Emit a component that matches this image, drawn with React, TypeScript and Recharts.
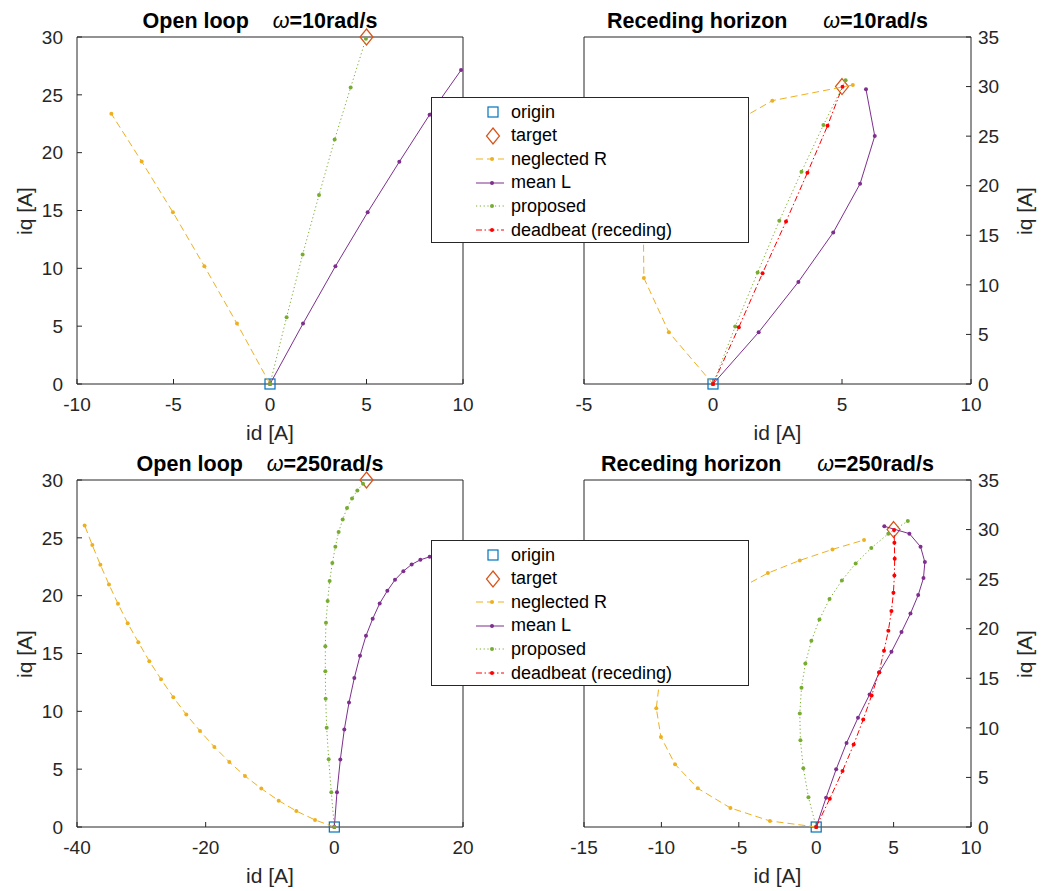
import React from 'react';
import { ScatterChart, Scatter, XAxis, YAxis } from 'recharts';

type Pt = [number, number];

// markers shared by every panel
const originPt: Pt[] = [[0, 0]];
const targetPt: Pt[] = [[5, 30]];

// Open loop, w = 10 rad/s
const ol10NeglectedR: Pt[] = [[0, 0], [-1.71, 5.22], [-3.4, 10.18], [-5.03, 14.85], [-6.65, 19.24], [-8.22, 23.36]];
const ol10MeanL: Pt[] = [[0, 0], [1.71, 5.22], [3.39, 10.18], [5.06, 14.85], [6.7, 19.21], [8.27, 23.28], [9.9, 27.14]];
const ol10Proposed: Pt[] = [[0, 0], [0.86, 5.77], [1.69, 11.19], [2.54, 16.33], [3.35, 21.14], [4.18, 25.64], [4.97, 29.85]];

// Receding horizon, w = 10 rad/s
const rh10NeglectedR: Pt[] = [[0, 0], [-1.71, 5.22], [-2.68, 10.7], [-2.7, 16.4], [-0.9, 23.8], [2.3, 28.58], [5.42, 30.16]];
const rh10MeanL: Pt[] = [[0, 0], [1.77, 5.22], [3.31, 10.3], [4.66, 15.28], [5.7, 20.19], [6.27, 25.01], [5.93, 29.72]];
const rh10Proposed: Pt[] = [[0, 0], [0.86, 5.79], [1.73, 11.24], [2.57, 16.46], [3.43, 21.41], [4.28, 26.12], [5.14, 30.63]];
const rh10Deadbeat: Pt[] = [[0, 0], [1.0, 5.72], [1.92, 11.17], [2.83, 16.39], [3.66, 21.31], [4.44, 26.05], [5.02, 29.99]];

// Open loop, w = 250 rad/s
const ol250NeglectedR: Pt[] = [
  [0, 0], [-3.0, 0.61], [-5.91, 1.38], [-8.65, 2.28], [-11.35, 3.32], [-13.89, 4.41], [-16.32, 5.62],
  [-18.65, 6.92], [-20.88, 8.31], [-23.01, 9.72], [-25.03, 11.22], [-26.94, 12.78], [-28.76, 14.34],
  [-30.47, 15.98], [-32.12, 17.62], [-33.63, 19.3], [-35.03, 20.97], [-36.37, 22.67], [-37.62, 24.37], [-38.81, 26.07],
];
const ol250MeanL: Pt[] = [
  [0, 0], [0.41, 3.0], [0.93, 5.83], [1.55, 8.42], [2.28, 10.76], [3.11, 12.89], [3.99, 14.8], [4.92, 16.53],
  [5.96, 18.0], [7.05, 19.33], [8.24, 20.42], [9.43, 21.37], [10.73, 22.12], [12.02, 22.7], [13.37, 23.1],
  [14.82, 23.36], [16.2, 23.5], [17.6, 23.55], [19.0, 23.5],
];
const ol250Proposed: Pt[] = [
  [0, 0], [-0.47, 3.0], [-0.88, 5.86], [-1.19, 8.57], [-1.35, 11.08], [-1.4, 13.47], [-1.4, 15.63], [-1.3, 17.65],
  [-1.04, 19.53], [-0.73, 21.26], [-0.31, 22.82], [0.16, 24.23], [0.67, 25.5], [1.3, 26.59], [1.97, 27.57],
  [2.75, 28.41], [3.58, 29.1], [4.46, 29.68],
];

// Receding horizon, w = 250 rad/s
const rh250NeglectedR: Pt[] = [
  [0, 0], [-2.99, 0.61], [-5.54, 1.92], [-7.65, 3.9], [-9.12, 6.33], [-10.03, 9.09], [-10.33, 11.98],
  [-10.1, 15.0], [-9.2, 18.0], [-7.6, 20.9], [-5.5, 23.6], [-3.12, 25.61], [-1.06, 26.89], [1.05, 28.0], [3.09, 28.95],
];
const rh250MeanL: Pt[] = [
  [0, 0], [0.64, 2.96], [1.29, 5.82], [1.96, 8.48], [2.7, 11.01], [3.45, 13.36], [4.08, 15.62], [4.86, 17.67],
  [5.51, 19.66], [6.09, 21.54], [6.59, 23.39], [6.93, 25.11], [7.02, 26.72], [6.74, 28.27], [6.02, 29.59], [4.4, 30.33],
];
const rh250Proposed: Pt[] = [
  [0, 0], [-0.5, 3.0], [-0.83, 5.92], [-1.02, 8.75], [-1.06, 11.44], [-0.95, 14.04], [-0.7, 16.49], [-0.31, 18.78],
  [0.21, 20.94], [0.86, 22.99], [1.66, 24.87], [2.55, 26.59], [3.56, 28.14], [4.66, 29.59], [5.92, 30.86],
];
const rh250Deadbeat: Pt[] = [
  [0, 0], [0.88, 2.86], [1.7, 5.65], [2.42, 8.31], [3.04, 10.84], [3.58, 13.26], [4.06, 15.58], [4.38, 17.77],
  [4.66, 19.79], [4.86, 21.78], [4.99, 23.63], [5.05, 25.38], [5.07, 27.06], [5.05, 28.68], [5.03, 29.96],
];

// tick labels
const ol10XTicks = [-10, -5, 0, 5, 10];
const rh10XTicks = [-5, 0, 5, 10];
const ol250XTicks = [-40, -20, 0, 20];
const rh250XTicks = [-15, -10, -5, 0, 5, 10];
const yTicks30 = [0, 5, 10, 15, 20, 25, 30];
const yTicks35 = [0, 5, 10, 15, 20, 25, 30, 35];

const FONT = '"Liberation Sans", Arial, Helvetica, sans-serif';
const INK = '#262626';

const C = {
  origin: '#0072BD',
  target: '#D95319',
  neglected: '#EDB120',
  meanL: '#7E2F8E',
  proposed: '#77AC30',
  deadbeat: '#FF0000',
};

type Style = { name: string; color: string; dash?: string };
const S: Record<string, Style> = {
  neglected: { name: 'neglected R', color: C.neglected, dash: '7 4' },
  meanL: { name: 'mean L', color: C.meanL },
  proposed: { name: 'proposed', color: C.proposed, dash: '1.2 2.6' },
  deadbeat: { name: 'deadbeat (receding)', color: C.deadbeat, dash: '6 2.5 1.5 2.5' },
};

const toPts = (arr: Pt[]) => arr.map(([id, iq]) => ({ id, iq }));

const dotShape = (color: string) => (p: any) => <circle cx={p.cx} cy={p.cy} r={2} fill={color} />;
const squareShape = (p: any) => (
  <rect x={p.cx - 5} y={p.cy - 5} width={10} height={10} fill="none" stroke={C.origin} strokeWidth={1.2} />
);
const diamondShape = (p: any) => (
  <polygon
    points={`${p.cx},${p.cy - 8} ${p.cx + 6.5},${p.cy} ${p.cx},${p.cy + 8} ${p.cx - 6.5},${p.cy}`}
    fill="none"
    stroke={C.target}
    strokeWidth={1.2}
  />
);
const noShape = () => <g />;

type Trace = { style: Style; data: Pt[] };

interface PanelProps {
  left: number;
  top: number;
  width: number;
  yRight?: boolean;
  xDomain: [number, number];
  xTicks: number[];
  yDomain: [number, number];
  yTicks: number[];
  traces: Trace[];
  heading: string;
  speed: string;
}

const HEIGHT = 445;

function Panel({ left, top, width, yRight, xDomain, xTicks, yDomain, yTicks, traces, heading, speed }: PanelProps) {
  // the box axes take 1px each, so the margins are 1px smaller
  const margin = yRight
    ? { top: 36, right: 18, bottom: 31, left: 59 }
    : { top: 36, right: 60, bottom: 31, left: 17 };
  const plotL = yRight ? left + 60 : left + 77;
  const plotR = yRight ? left + width - 78 : left + width - 61;
  const plotT = top + 37;
  const plotB = top + HEIGHT - margin.bottom - 30;
  const cx = (plotL + plotR) / 2;
  const cy = (plotT + plotB) / 2;
  const tickFont = { fill: INK, fontSize: 19, fontFamily: FONT };
  // corners of the box, only used to bind the box axes
  const boxCorners: Pt[] = [[xDomain[0], yDomain[0]], [xDomain[1], yDomain[1]]];

  return (
    <>
      <div style={{ position: 'absolute', left, top, width, height: HEIGHT }}>
        <ScatterChart width={width} height={HEIGHT} margin={margin}>
          <XAxis
            type="number"
            dataKey="id"
            domain={xDomain}
            ticks={xTicks}
            tick={tickFont}
            tickSize={-5}
            tickMargin={19}
            height={30}
            stroke={INK}
            interval={0}
          />
          <XAxis
            xAxisId="top"
            orientation="top"
            type="number"
            dataKey="id"
            domain={xDomain}
            ticks={xTicks}
            tick={false}
            tickSize={-5}
            height={1}
            stroke={INK}
            allowDataOverflow
            interval={0}
          />
          <YAxis
            type="number"
            dataKey="iq"
            orientation={yRight ? 'right' : 'left'}
            domain={yDomain}
            ticks={yTicks}
            tick={tickFont}
            tickSize={-5}
            tickMargin={yRight ? 12 : 19}
            width={60}
            stroke={INK}
            interval={0}
          />
          <YAxis
            yAxisId="mirror"
            orientation={yRight ? 'left' : 'right'}
            type="number"
            dataKey="iq"
            domain={yDomain}
            ticks={yTicks}
            tick={false}
            tickSize={-5}
            width={1}
            stroke={INK}
            allowDataOverflow
            interval={0}
          />
          <Scatter
            xAxisId="top"
            yAxisId="mirror"
            data={toPts(boxCorners)}
            shape={noShape}
            legendType="none"
            isAnimationActive={false}
          />
          <Scatter name="origin" data={toPts(originPt)} shape={squareShape} isAnimationActive={false} />
          <Scatter name="target" data={toPts(targetPt)} shape={diamondShape} isAnimationActive={false} />
          {traces.map((t) => (
            <Scatter
              key={t.style.name}
              name={t.style.name}
              data={toPts(t.data)}
              fill={t.style.color}
              line={{ stroke: t.style.color, strokeWidth: 1, strokeDasharray: t.style.dash }}
              shape={dotShape(t.style.color)}
              isAnimationActive={false}
            />
          ))}
        </ScatterChart>
      </div>
      <div
        style={{
          position: 'absolute',
          left: cx - 10 - 250,
          width: 500,
          top: top + 10.5,
          textAlign: 'center',
          fontFamily: FONT,
          fontSize: 21.5,
          lineHeight: '21px',
          fontWeight: 'bold',
          color: '#000',
          whiteSpace: 'pre',
        }}
      >
        {heading}
        <span style={{ fontStyle: 'italic', fontWeight: 'normal' }}>ω</span>
        {speed}
      </div>
      <div
        style={{
          position: 'absolute',
          left: cx - 100,
          width: 200,
          top: plotB + 38,
          textAlign: 'center',
          fontFamily: FONT,
          fontSize: 21,
          lineHeight: '21px',
          color: INK,
        }}
      >
        id [A]
      </div>
      <div
        style={{
          position: 'absolute',
          left: (yRight ? plotR + 54 : plotL - 52) - 100,
          top: cy - 12,
          width: 200,
          height: 24,
          lineHeight: '24px',
          textAlign: 'center',
          fontFamily: FONT,
          fontSize: 21,
          color: INK,
          transform: 'rotate(-90deg)',
        }}
      >
        iq [A]
      </div>
    </>
  );
}

const legendRows: { style: Style; marker: 'square' | 'diamond' | 'dot' }[] = [
  { style: { name: 'origin', color: C.origin }, marker: 'square' },
  { style: { name: 'target', color: C.target }, marker: 'diamond' },
  { style: S.neglected, marker: 'dot' },
  { style: S.meanL, marker: 'dot' },
  { style: S.proposed, marker: 'dot' },
  { style: S.deadbeat, marker: 'dot' },
];

function LegendBox({ left, top }: { left: number; top: number }) {
  return (
    <div
      style={{
        position: 'absolute',
        left,
        top,
        width: 318,
        height: 146,
        border: `1px solid ${INK}`,
        background: '#fff',
        boxSizing: 'border-box',
        zIndex: 5,
        fontFamily: FONT,
        fontSize: 18,
        color: '#000',
      }}
    >
      {legendRows.map((r, i) => (
        <div
          key={r.style.name}
          style={{ position: 'absolute', left: 0, top: 14 + i * 23.6 - 12, height: 24, display: 'flex', alignItems: 'center' }}
        >
          <svg width={79} height={24} style={{ display: 'block' }}>
            {r.marker === 'square' && (
              <rect x={56} y={7} width={10} height={10} fill="none" stroke={r.style.color} strokeWidth={1.2} />
            )}
            {r.marker === 'diamond' && (
              <polygon points="61,4 67.5,12 61,20 54.5,12" fill="none" stroke={r.style.color} strokeWidth={1.2} />
            )}
            {r.marker === 'dot' && (
              <>
                <line x1={44} y1={12} x2={72} y2={12} stroke={r.style.color} strokeWidth={1} strokeDasharray={r.style.dash} />
                <circle cx={60} cy={12} r={2} fill={r.style.color} />
              </>
            )}
          </svg>
          <span style={{ whiteSpace: 'pre' }}>{r.style.name}</span>
        </div>
      ))}
    </div>
  );
}

export default function App() {
  return (
    <div style={{ position: 'absolute', left: 0, top: 0, width: 1049, height: 891, background: '#fff' }}>
      <Panel
        left={0}
        top={0}
        width={524}
        xDomain={[-10, 10]}
        xTicks={ol10XTicks}
        yDomain={[0, 30]}
        yTicks={yTicks30}
        traces={[
          { style: S.neglected, data: ol10NeglectedR },
          { style: S.meanL, data: ol10MeanL },
          { style: S.proposed, data: ol10Proposed },
        ]}
        heading={'Open loop    '}
        speed="=10rad/s"
      />
      <Panel
        left={524}
        top={0}
        width={525}
        yRight
        xDomain={[-5, 10]}
        xTicks={rh10XTicks}
        yDomain={[0, 35]}
        yTicks={yTicks35}
        traces={[
          { style: S.neglected, data: rh10NeglectedR },
          { style: S.meanL, data: rh10MeanL },
          { style: S.proposed, data: rh10Proposed },
          { style: S.deadbeat, data: rh10Deadbeat },
        ]}
        heading={'Receding horizon      '}
        speed="=10rad/s"
      />
      <Panel
        left={0}
        top={443}
        width={524}
        xDomain={[-40, 20]}
        xTicks={ol250XTicks}
        yDomain={[0, 30]}
        yTicks={yTicks30}
        traces={[
          { style: S.neglected, data: ol250NeglectedR },
          { style: S.meanL, data: ol250MeanL },
          { style: S.proposed, data: ol250Proposed },
        ]}
        heading={'Open loop    '}
        speed="=250rad/s"
      />
      <Panel
        left={524}
        top={443}
        width={525}
        yRight
        xDomain={[-15, 10]}
        xTicks={rh250XTicks}
        yDomain={[0, 35]}
        yTicks={yTicks35}
        traces={[
          { style: S.neglected, data: rh250NeglectedR },
          { style: S.meanL, data: rh250MeanL },
          { style: S.proposed, data: rh250Proposed },
          { style: S.deadbeat, data: rh250Deadbeat },
        ]}
        heading={'Receding horizon      '}
        speed="=250rad/s"
      />
      <LegendBox left={431} top={97} />
      <LegendBox left={431} top={540} />
    </div>
  );
}
